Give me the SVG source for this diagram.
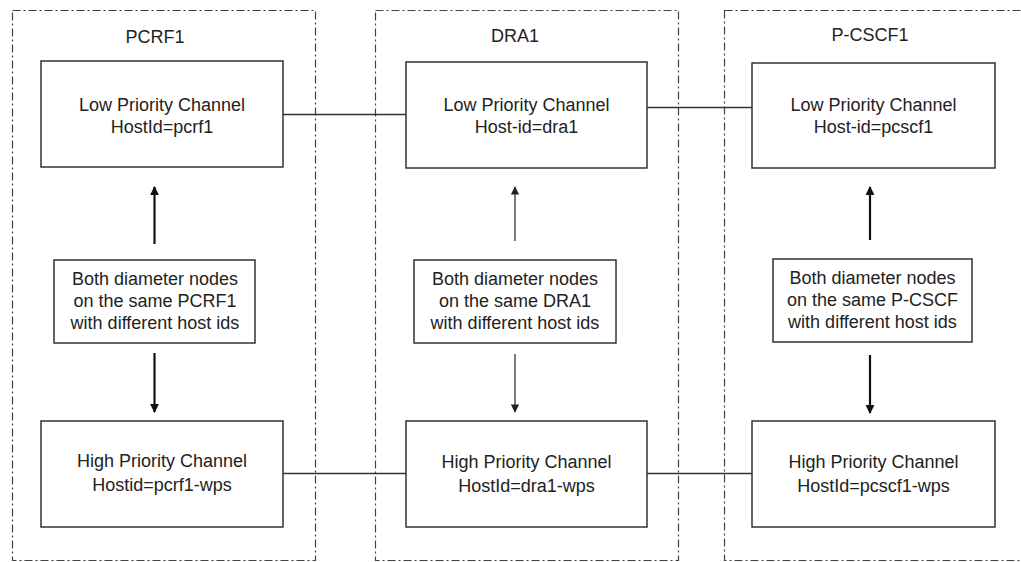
<svg xmlns="http://www.w3.org/2000/svg" width="1021" height="562" viewBox="0 0 1021 562">
<style>
.cont{fill:none;stroke:#444;stroke-width:1.2;stroke-dasharray:8 3 2 3}
.box{fill:#fff;stroke:#333;stroke-width:1.5}
.t{font-family:"Liberation Sans",Arial,sans-serif;font-size:18px;fill:#222;text-anchor:middle}
.ln{stroke:#333;stroke-width:1.3;fill:none}
.a2{stroke:#111;stroke-width:2.2;fill:none}
.a1{stroke:#222;stroke-width:1.2;fill:none}
</style>
<defs>
<marker id="ah" viewBox="0 0 10 10" refX="9" refY="5" markerWidth="4" markerHeight="4" orient="auto" markerUnits="strokeWidth">
<path d="M0,0 L10,5 L0,10 z" fill="#111"/>
</marker>
<marker id="ah1" viewBox="0 0 10 10" refX="9" refY="5" markerWidth="7" markerHeight="7" orient="auto" markerUnits="strokeWidth">
<path d="M0,0 L10,5 L0,10 z" fill="#222"/>
</marker>
</defs>
<rect width="1021" height="562" fill="#fff"/>
<g id="containers">
<rect class="cont" x="12.5" y="10.5" width="303" height="550"/>
<rect class="cont" x="375.5" y="10.5" width="303" height="550"/>
<rect class="cont" x="724.5" y="10.5" width="310" height="550"/>
</g>
<g id="titles">
<text class="t" x="155" y="43">PCRF1</text>
<text class="t" x="515" y="42">DRA1</text>
<text class="t" x="870" y="41">P-CSCF1</text>
</g>
<g id="connectors">
<line class="ln" x1="283" y1="114.5" x2="406" y2="114.5"/>
<line class="ln" x1="647" y1="107.5" x2="752" y2="107.5" style="stroke-width:1.6"/>
<line class="ln" x1="283" y1="473.5" x2="406" y2="473.5"/>
<line class="ln" x1="647" y1="473.5" x2="752" y2="473.5"/>
<line class="a2" x1="154.5" y1="244" x2="154.5" y2="187" marker-end="url(#ah)"/>
<line class="a2" x1="154.5" y1="353" x2="154.5" y2="412" marker-end="url(#ah)"/>
<line class="a1" x1="515" y1="241" x2="515" y2="187" marker-end="url(#ah1)"/>
<line class="a1" x1="515" y1="354" x2="515" y2="412" marker-end="url(#ah1)"/>
<line class="a2" x1="870" y1="240" x2="870" y2="187" marker-end="url(#ah)"/>
<line class="a2" x1="870" y1="355" x2="870" y2="413" marker-end="url(#ah)"/>
</g>
<g id="pcrf-low">
<rect class="box" x="41" y="61" width="242" height="106"/>
<text class="t" x="162" y="111">Low Priority Channel</text>
<text class="t" x="162" y="133">HostId=pcrf1</text>
</g>
<g id="pcrf-mid">
<rect class="box" x="54" y="260" width="201" height="83"/>
<text class="t" x="155" y="285">Both diameter nodes</text>
<text class="t" x="155" y="307">on the same PCRF1</text>
<text class="t" x="155" y="329">with different host ids</text>
</g>
<g id="pcrf-high">
<rect class="box" x="41" y="421" width="242" height="106"/>
<text class="t" x="162" y="467">High Priority Channel</text>
<text class="t" x="162" y="491">Hostid=pcrf1-wps</text>
</g>
<g id="dra-low">
<rect class="box" x="406" y="62" width="241" height="106"/>
<text class="t" x="526.5" y="111">Low Priority Channel</text>
<text class="t" x="526.5" y="133">Host-id=dra1</text>
</g>
<g id="dra-mid">
<rect class="box" x="414" y="260" width="202" height="83"/>
<text class="t" x="515" y="285">Both diameter nodes</text>
<text class="t" x="515" y="307">on the same DRA1</text>
<text class="t" x="515" y="329">with different host ids</text>
</g>
<g id="dra-high">
<rect class="box" x="406" y="421" width="241" height="106"/>
<text class="t" x="526.5" y="468">High Priority Channel</text>
<text class="t" x="526.5" y="492">HostId=dra1-wps</text>
</g>
<g id="pcscf-low">
<rect class="box" x="752" y="63" width="243" height="105"/>
<text class="t" x="873.5" y="111">Low Priority Channel</text>
<text class="t" x="873.5" y="133">Host-id=pcscf1</text>
</g>
<g id="pcscf-mid">
<rect class="box" x="773" y="259" width="199" height="83"/>
<text class="t" x="872.5" y="284">Both diameter nodes</text>
<text class="t" x="872.5" y="306">on the same P-CSCF</text>
<text class="t" x="872.5" y="328">with different host ids</text>
</g>
<g id="pcscf-high">
<rect class="box" x="752" y="421" width="243" height="106"/>
<text class="t" x="873.5" y="468">High Priority Channel</text>
<text class="t" x="873.5" y="492">HostId=pcscf1-wps</text>
</g>
</svg>
